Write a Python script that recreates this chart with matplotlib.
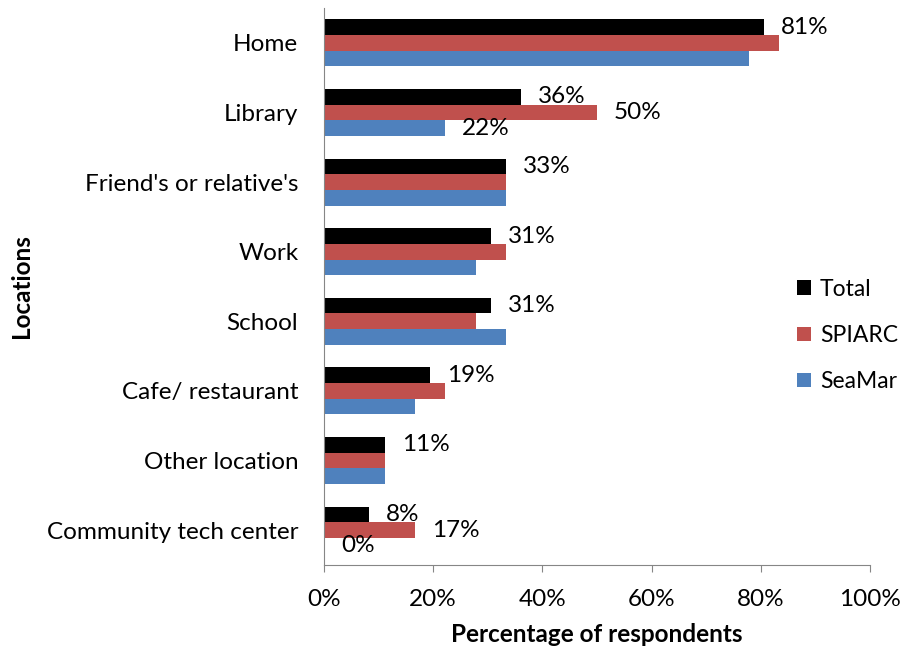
import matplotlib
matplotlib.use("Agg")
import matplotlib.pyplot as plt
import numpy as np

# data (percent of respondents)
locations = ["Home", "Library", "Friend's or relative's", "Work", "School",
             "Cafe/ restaurant", "Other location", "Community tech center"]
total = [80.6, 36.1, 33.3, 30.6, 30.6, 19.4, 11.1, 8.3]
spiarc = [83.3, 50.0, 33.3, 33.3, 27.8, 22.2, 11.1, 16.7]
seamar = [77.8, 22.2, 33.3, 27.8, 33.3, 16.7, 11.1, 0.0]

# which bars carry a data label (as in the original)
total_labels = ["81%", "36%", "33%", "31%", "31%", "19%", "11%", "8%"]
spiarc_labels = [None, "50%", None, None, None, None, None, "17%"]
seamar_labels = [None, "22%", None, None, None, None, None, "0%"]

series = [
    ("Total", total, total_labels, "#000000"),
    ("SPIARC", spiarc, spiarc_labels, "#C0504D"),
    ("SeaMar", seamar, seamar_labels, "#4F81BD"),
]

plt.rcParams["font.family"] = ["Lato", "DejaVu Sans"]
FS = 17.5

fig = plt.figure(figsize=(9.04, 6.54), dpi=100)
ax = fig.add_axes([324 / 904, 1 - 565 / 654, 546 / 904, 557 / 654])

y = np.arange(len(locations))
h = 0.225
for k, (name, vals, labels, color) in enumerate(series):
    pos = y + (k - 1) * h
    ax.barh(pos, vals, height=h, color=color, label=name)
    for p, v, lab in zip(pos, vals, labels):
        if lab is None:
            continue
        ax.annotate(lab, (v, p), xytext=(17, 0), textcoords="offset pixels",
                    ha="left", va="center", fontsize=FS, color="black")

ax.set_xlim(0, 100)
ax.set_ylim(len(locations) - 0.5, -0.5)
ax.set_xticks(np.arange(0, 101, 20))
ax.set_xticklabels([f"{t}%" for t in range(0, 101, 20)], fontsize=FS)
ax.set_yticks(y)
ax.set_yticklabels(locations, fontsize=FS)

for side in ["top", "right"]:
    ax.spines[side].set_visible(False)
for side in ["left", "bottom"]:
    ax.spines[side].set_color("#868686")
ax.tick_params(axis="y", length=0, pad=18.5)
ax.tick_params(axis="x", length=5, color="#868686", pad=12)

ax.set_xlabel("Percentage of respondents", fontsize=FS, fontweight="bold", labelpad=10)
ax.set_ylabel("Locations", fontsize=FS, fontweight="bold", labelpad=10)

ax.legend(loc="center left", bbox_to_anchor=(0.866, 0.412), frameon=False,
          fontsize=16.5, handlelength=0.6, handleheight=0.6, handletextpad=0.4,
          labelspacing=1.1, borderpad=0, borderaxespad=0)

fig.savefig("out.png", dpi=100)
